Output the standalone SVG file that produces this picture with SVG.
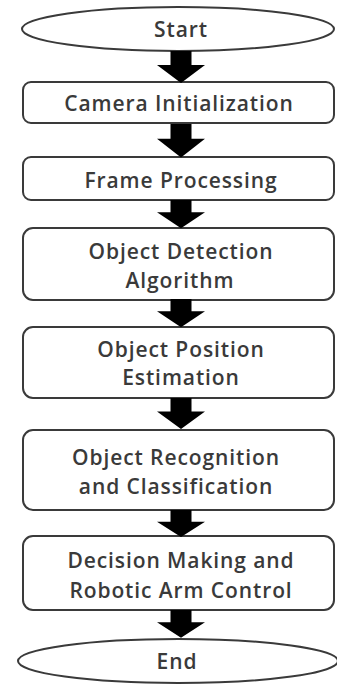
<svg xmlns="http://www.w3.org/2000/svg" width="337" height="684" viewBox="0 0 337 684">
<style>
.node{fill:#fff;stroke:#3a3a3a;stroke-width:2}
.t{font-family:"Open Sans","DejaVu Sans",sans-serif;font-size:21px;font-weight:600;letter-spacing:0.9px;fill:#3a3a3a;text-anchor:middle;dominant-baseline:central}
.arr{fill:#000}
</style>
<defs>
<path id="ar" d="M-10.5,0 H10.5 V14 H24 L0,32 L-24,14 H-10.5 Z"/>
</defs>
<rect width="337" height="684" fill="#fff"/>
<g id="start"><ellipse class="node" cx="178" cy="29" rx="156" ry="22"/><text class="t" x="181" y="29">Start</text></g>
<g id="n1"><rect class="node" x="23" y="82" width="311" height="41" rx="8"/><text class="t" x="179" y="103">Camera Initialization</text></g>
<g id="n2"><rect class="node" x="23" y="157" width="311" height="43" rx="8"/><text class="t" x="181" y="180">Frame Processing</text></g>
<g id="n3"><rect class="node" x="23" y="228" width="311" height="72" rx="10"/><text class="t" x="181" y="251">Object Detection</text><text class="t" x="180" y="280">Algorithm</text></g>
<g id="n4"><rect class="node" x="23" y="327" width="311" height="71" rx="10"/><text class="t" x="181" y="349">Object Position</text><text class="t" x="181" y="377">Estimation</text></g>
<g id="n5"><rect class="node" x="23" y="430" width="311" height="80" rx="10"/><text class="t" x="176" y="457">Object Recognition</text><text class="t" x="176" y="486">and Classification</text></g>
<g id="n6"><rect class="node" x="23" y="536" width="311" height="74" rx="10"/><text class="t" x="181" y="560">Decision Making and</text><text class="t" x="181" y="590">Robotic Arm Control</text></g>
<g id="end"><ellipse class="node" cx="178" cy="661" rx="160" ry="22"/><text class="t" x="177" y="661">End</text></g>
<g id="connectors" class="arr">
<use href="#ar" transform="translate(181,51)"/>
<use href="#ar" transform="translate(181,124) scale(1,1.05)"/>
<use href="#ar" transform="translate(181,200) scale(1,0.88)"/>
<use href="#ar" transform="translate(181,299) scale(1,0.88)"/>
<use href="#ar" transform="translate(181,398) scale(1,0.97)"/>
<use href="#ar" transform="translate(181,510) scale(1,0.84)"/>
<use href="#ar" transform="translate(181,610) scale(1,0.87)"/>
</g>
</svg>
